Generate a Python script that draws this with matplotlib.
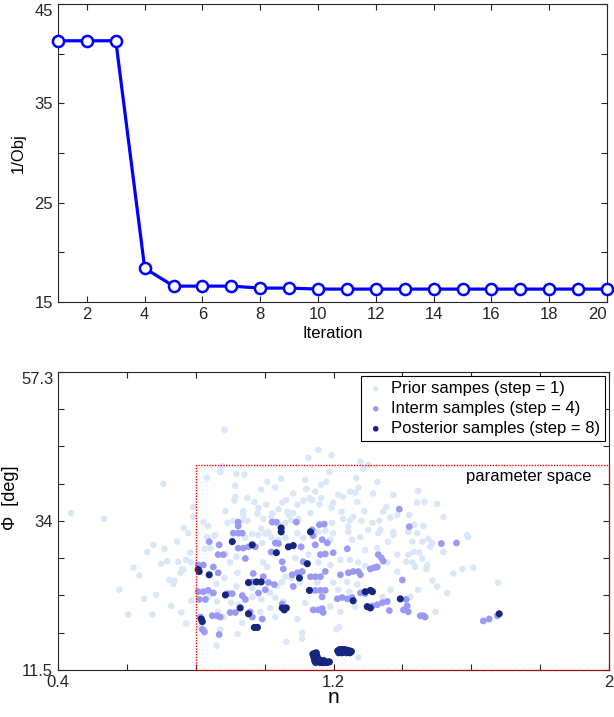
import numpy as np
import matplotlib
matplotlib.use('Agg')
import matplotlib.pyplot as plt
from matplotlib.patches import Rectangle

plt.rcParams['font.family'] = ['Liberation Sans', 'DejaVu Sans']

# --- top panel: 1/Obj per iteration
iteration = list(range(1, 21))
inv_obj = [41.3, 41.3, 41.3, 18.4, 16.6, 16.6, 16.6, 16.4, 16.4, 16.3,
           16.3, 16.3, 16.3, 16.3, 16.3, 16.3, 16.3, 16.3, 16.3, 16.3]

# --- bottom panel: samples (n, Phi in deg)
prior_n = [0.706, 0.438, 0.534, 0.883, 0.578, 0.604, 0.619, 0.636, 0.650, 0.659,
           0.674, 0.677, 0.685, 0.700, 0.709, 0.717, 0.723, 0.729, 0.735, 0.738,
           0.746, 0.758, 0.764, 0.764, 0.772, 0.772, 0.778, 0.784, 0.787, 0.793,
           0.793,
           0.877, 0.871, 0.833, 0.918, 0.941, 0.915, 1.008, 1.048, 1.031, 0.990,
           0.915, 0.912, 0.950, 0.970, 1.051, 1.063, 1.005, 0.982, 0.886, 0.938,
           0.979, 0.938, 1.022, 1.040, 1.066, 0.822, 0.836, 0.892, 0.909, 0.938,
           0.950, 0.996, 1.019, 1.040, 1.060, 1.069, 0.857, 0.990, 1.011,
           0.833, 0.854, 0.749, 0.761, 0.755, 0.787, 0.825, 0.842, 0.886, 0.900,
           0.918, 0.993, 0.996, 1.008, 0.944, 0.964, 0.982, 1.002, 1.019, 1.040,
           1.060, 0.921, 0.883, 0.860, 0.918, 0.964, 1.016, 1.037, 1.051, 1.060,
           0.836, 0.862, 0.903, 0.923, 0.964, 0.990, 1.016, 1.031, 1.054, 0.865,
           0.880, 0.935, 0.987, 1.031, 0.871, 0.921, 0.860, 1.063, 0.813, 0.825,
           1.095, 1.112, 1.156, 1.199, 1.243, 1.254, 1.278, 1.330, 1.359, 1.374,
           1.191, 1.292, 1.327, 1.385, 1.089, 1.127, 1.156, 1.191, 1.220, 1.248,
           1.272, 1.292, 1.356, 1.385, 1.077, 1.103, 1.153, 1.199, 1.240, 1.269,
           1.214, 1.246, 1.365, 1.342, 1.118, 1.191, 1.220, 1.263, 1.095, 1.217,
           1.208, 1.109, 1.109, 1.272,
           1.156, 1.127, 1.194, 1.278, 1.301, 1.286, 1.188, 1.266, 1.327, 1.118,
           1.164, 1.179, 1.121, 1.147, 1.248, 1.263, 1.272, 1.315, 1.374, 1.083,
           1.214, 1.164, 1.130, 1.112, 1.095, 1.138, 1.159, 1.199, 1.194, 1.228,
           1.269, 1.353, 1.344, 1.289, 1.257, 1.248, 1.228, 1.223, 1.133, 1.083,
           1.077, 1.098, 1.196, 1.243, 1.281, 1.313, 1.333, 1.365, 1.385, 1.301,
           1.336, 1.374, 1.176,
           1.446, 1.443, 1.464, 1.501, 1.420, 1.519, 1.435, 1.588, 1.481, 1.519,
           1.606, 1.574, 1.530, 1.501, 1.678, 1.472, 1.446, 1.432, 1.429, 1.443,
           1.461, 1.417, 1.458, 1.475, 1.487, 1.591, 1.417, 1.449, 1.458, 1.411,
           1.429, 1.437, 1.469, 1.548, 1.487, 1.423, 1.496]
prior_phi = [40.1, 35.6, 34.7, 48.4, 23.8, 20.0, 27.2, 26.0, 22.4, 29.6,
             20.0, 30.7, 23.0, 27.8, 30.1, 28.2, 25.3, 21.3, 24.7, 25.2,
             31.2, 20.3, 26.9, 33.3, 18.6, 28.4, 32.5, 29.5, 22.1, 36.5,
             35.0,
             42.8, 41.9, 41.0, 41.6, 41.5, 39.8, 40.4, 40.9, 39.5, 39.2,
             38.1, 37.5, 37.9, 37.3, 37.2, 37.6, 36.9, 36.4, 35.9, 35.9,
             35.5, 35.3, 35.5, 36.2, 35.8, 34.2, 33.6, 34.1, 34.4, 34.5,
             34.4, 34.7, 35.0, 33.9, 34.1, 35.3, 32.2, 33.2, 32.7,
             31.9, 32.1, 28.1, 27.0, 26.4, 28.0, 30.1, 30.2, 29.3, 28.0,
             28.9, 31.0, 28.0, 27.3, 31.8, 32.4, 32.2, 32.4, 31.9, 31.5,
             31.8, 26.4, 25.6, 24.7, 24.3, 24.1, 23.3, 24.4, 25.0, 25.8,
             22.7, 22.0, 21.8, 21.5, 22.7, 22.3, 21.0, 22.6, 22.0, 20.4,
             19.6, 18.7, 20.4, 19.6, 17.7, 17.0, 15.2, 15.8, 18.1, 17.7,
             32.5, 31.8, 32.7, 32.5, 32.7, 31.5, 31.9, 32.5, 31.2, 32.2,
             31.5, 29.9, 30.2, 29.2, 28.7, 29.2, 28.0, 27.6, 28.4, 28.4,
             28.0, 27.5, 28.0, 26.6, 25.6, 24.9, 24.9, 24.9, 25.0, 24.6,
             23.8, 23.5, 23.8, 22.7, 21.8, 21.2, 20.4, 21.2, 19.3, 18.1,
             17.7, 17.2, 16.3, 13.4,
             45.3, 44.1, 44.5, 43.5, 43.0, 42.4, 41.9, 41.0, 40.4, 40.7,
             39.9, 40.4, 39.3, 38.9, 38.9, 38.7, 39.5, 38.6, 38.4, 38.6,
             38.4, 37.9, 37.9, 37.5, 36.9, 37.6, 36.9, 37.2, 36.4, 38.1,
             37.3, 36.5, 35.8, 35.9, 35.0, 34.5, 34.7, 35.8, 35.6, 35.6,
             34.5, 34.7, 34.1, 33.5, 34.4, 34.1, 34.4, 34.9, 35.3, 33.0,
             33.0, 32.7, 32.9,
             39.0, 37.2, 37.3, 37.0, 35.3, 35.0, 33.8, 32.2, 30.4, 29.6,
             27.2, 27.0, 23.3, 24.3, 24.9, 27.6, 23.8, 29.6, 31.2, 32.5,
             33.6, 32.7, 31.2, 31.6, 31.0, 31.9, 29.2, 29.5, 28.6, 28.1,
             28.0, 27.3, 27.0, 26.3, 25.2, 22.7, 20.4]

interm_n = [0.923, 0.923, 1.022, 1.034, 0.909, 0.923, 0.935, 0.839, 0.868, 0.923,
            0.938, 0.953, 0.973, 1.031, 1.019, 0.865, 0.880, 0.944, 0.807, 0.822,
            0.851, 0.865, 0.967, 0.996, 0.964, 1.011, 1.028, 1.054, 1.051, 1.040,
            0.807, 0.822, 0.836, 0.851, 0.810, 0.828, 0.894, 0.906, 0.935, 0.944,
            0.982, 1.002, 1.051, 0.900, 0.915, 0.848, 0.862, 0.871, 0.958, 0.964,
            0.993, 0.819, 0.825, 0.868, 0.813,
            1.141, 1.106, 1.147, 1.167, 1.182, 1.162, 1.176, 1.199, 1.240, 1.112,
            1.330, 1.339, 1.344, 1.080, 1.095, 1.109, 1.133, 1.147, 1.162, 1.176,
            1.220, 1.243, 1.257, 1.272, 1.278, 1.307, 1.318, 1.327, 1.400, 1.083,
            1.133, 1.147, 1.162, 1.176, 1.167, 1.211, 1.225, 1.240, 1.254, 1.278,
            1.292, 1.313, 1.327, 1.342, 1.356, 1.141, 1.156, 1.167, 1.170, 1.362,
            1.403, 1.391, 1.159, 1.173, 1.092, 1.138, 1.420, 1.513, 1.557, 1.411,
            1.414, 1.417, 1.452, 1.461, 1.466, 1.635, 1.652, 1.676]
interm_phi = [34.2, 33.6, 34.2, 34.2, 32.5, 32.5, 32.5, 31.2, 30.7, 30.2,
              30.2, 30.4, 30.4, 31.0, 29.6, 29.2, 29.2, 28.6, 27.6, 27.6,
              27.3, 26.4, 26.3, 25.8, 25.0, 24.9, 24.6, 27.0, 28.1, 30.9,
              23.5, 23.5, 23.7, 23.3, 22.3, 22.3, 23.2, 23.2, 22.9, 22.3,
              23.3, 23.8, 21.6, 20.3, 20.3, 19.8, 19.8, 19.6, 20.4, 19.6,
              19.3, 17.7, 17.3, 16.9, 19.6,
              32.1, 30.4, 30.7, 31.5, 31.0, 29.2, 29.3, 29.5, 30.1, 28.1,
              29.2, 28.7, 28.2, 26.1, 26.4, 26.6, 25.8, 25.8, 25.8, 26.6,
              26.1, 26.4, 26.6, 26.6, 26.1, 27.0, 27.2, 27.3, 25.3, 24.3,
              23.7, 23.7, 23.7, 23.7, 22.7, 22.4, 22.6, 22.4, 22.6, 23.3,
              23.2, 21.3, 21.5, 21.8, 22.0, 20.7, 20.7, 20.9, 20.3, 20.6,
              20.7, 36.2, 33.8, 33.9, 34.2, 33.0, 33.5, 30.9, 31.0, 22.3,
              21.3, 20.4, 19.8, 19.8, 19.6, 19.0, 19.3, 19.8]

post_n = [1.048, 1.048, 0.807, 0.810, 0.839, 0.906, 0.964, 1.034, 1.069, 0.953,
          0.976, 0.990, 0.886, 0.929, 0.953, 1.051, 1.063, 1.057, 0.816, 0.819,
          0.970, 0.979, 1.133, 1.083, 1.124, 1.101, 1.130, 1.257, 1.292, 1.307,
          1.313, 1.298, 1.307, 1.394, 1.681,
          1.140, 1.143, 1.145, 1.148, 1.152, 1.155, 1.158, 1.162, 1.166, 1.170,
          1.175, 1.180, 1.185, 1.188, 1.150, 1.145, 1.160, 1.172,
          1.212, 1.218, 1.225, 1.232, 1.240, 1.247, 1.252, 1.215, 1.225, 1.238,
          1.248]
post_phi = [33.3, 32.7, 26.9, 26.6, 26.1, 31.2, 30.7, 29.5, 30.4, 24.9,
            25.0, 25.0, 23.0, 21.0, 20.1, 21.0, 21.0, 20.7, 19.3, 18.9,
            18.0, 18.0, 32.7, 30.6, 27.8, 25.6, 23.7, 22.1, 23.5, 23.7,
            23.5, 21.2, 21.0, 22.4, 20.1,
            13.9, 13.4, 12.9, 12.6, 13.6, 13.1, 12.7, 12.6, 12.6, 12.6,
            12.7, 12.6, 12.7, 12.7, 14.1, 14.0, 13.0, 12.9,
            14.4, 14.6, 14.6, 14.6, 14.5, 14.4, 14.3, 14.1, 14.1, 14.1,
            14.1]

fig = plt.figure(figsize=(6.14, 7.17), dpi=100)

def matlab_axes(ax):
    ax.tick_params(direction='in', top=True, right=True, length=4.5,
                   labelsize=12, colors='#262626', width=0.8)
    for s in ax.spines.values():
        s.set_color('#262626')
        s.set_linewidth(0.8)

# top
ax1 = fig.add_axes([0.0945, 0.5788, 0.8941, 0.4156])
ax1.plot(iteration, inv_obj, '-o', color='#0000ff', lw=2.3, ms=8,
         mfc='white', mec='#0000ff', mew=1.8, clip_on=False, zorder=3)
ax1.set_xlim(1, 20)
ax1.set_ylim(15, 45)
ax1.set_xticks(range(2, 21, 2))
ax1.set_yticks(range(15, 46, 5))
ax1.set_yticklabels(['15', '', '25', '', '35', '', '45'])
ax1.set_xlabel('Iteration', fontsize=12, labelpad=3)
ax1.set_ylabel('1/Obj', fontsize=12, labelpad=6)
matlab_axes(ax1)
# keep edge labels inside the figure, as MATLAB does
ax1.get_xticklabels()[-1].set_ha('right')
ax1.get_yticklabels()[-1].set_va('top')

# bottom
ax2 = fig.add_axes([0.0945, 0.0656, 0.8974, 0.4156])
ax2.scatter(prior_n, prior_phi, s=22, color='#d9e7f9', edgecolors='none',
            label='Prior sampes (step = 1)', zorder=2)
ax2.scatter(interm_n, interm_phi, s=24, color='#9a9af6', edgecolors='none',
            label='Interm samples (step = 4)', zorder=3)
ax2.scatter(post_n, post_phi, s=26, color='#14267e', edgecolors='none',
            label='Posterior samples (step = 8)', zorder=4)

rad = np.degrees
ax2.add_patch(Rectangle((0.8, rad(0.2)), 1.2, rad(0.75) - rad(0.2), fill=False,
                        edgecolor='red', ls=(0, (1, 1)), lw=1.0, zorder=5,
                        clip_on=False))
ax2.text(1.948, 41.2, 'parameter space', ha='right', va='center',
         fontsize=12)

ax2.set_xlim(0.4, 2.0)
ax2.set_ylim(rad(0.2), rad(1.0))
xt = np.arange(0.4, 2.01, 0.2)
ax2.set_xticks(xt)
ax2.set_xticklabels(['0.4', '', '', '', '1.2', '', '', '', '2'])
ax2.set_yticks(rad(np.arange(0.2, 1.01, 0.1)))
ax2.set_yticklabels(['11.5', '', '', '', '34', '', '', '', '57.3'])
ax2.set_xlabel('n', fontsize=15, labelpad=-1)
ax2.set_ylabel('\u03a6  [deg]', fontsize=13)
ax2.yaxis.set_label_coords(-0.07, 0.577)
matlab_axes(ax2)
ax2.get_yticklabels()[-1].set_va('top')

leg = ax2.legend(loc='upper right', fontsize=12, frameon=True, fancybox=False,
                 handletextpad=0.3, handlelength=1.2, borderpad=0.3,
                 labelspacing=0.3, markerscale=0.8, borderaxespad=0.25,
                 framealpha=1)
leg.get_frame().set_edgecolor('black')
leg.get_frame().set_linewidth(0.8)

fig.savefig('out.png', dpi=100)
